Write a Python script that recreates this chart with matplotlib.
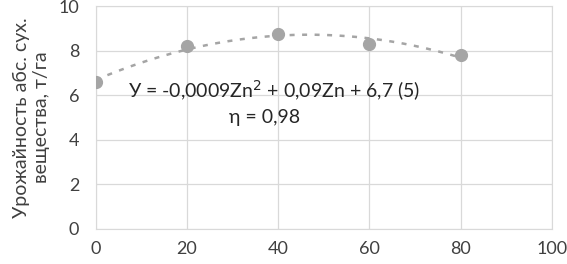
import numpy as np
import matplotlib.pyplot as plt

plt.rcParams['font.family'] = ['Lato', 'DejaVu Sans']

# data
zn = [0, 20, 40, 60, 80]
yld = [6.6, 8.2, 8.75, 8.3, 7.8]
xticks = [0, 20, 40, 60, 80, 100]
yticks = [0, 2, 4, 6, 8, 10]

fig = plt.figure(figsize=(5.67, 2.64), dpi=100)
ax = fig.add_axes([0.169, 0.133, 0.804, 0.844])

# quadratic trend line
coef = np.polyfit(zn, yld, 2)
xs = np.linspace(0, 80, 200)
ax.plot(xs, np.polyval(coef, xs), color='#a5a5a5', lw=1.8, ls=(0, (2, 3)), zorder=2)
ax.plot(zn, yld, 'o', color='#a5a5a5', ms=8.5, zorder=3)

ax.set_xlim(0, 100)
ax.set_ylim(0, 10)
ax.set_xticks(xticks)
ax.set_yticks(yticks)
ax.grid(color='#d9d9d9', lw=0.9)
ax.set_axisbelow(True)
for s in ax.spines.values():
    s.set_color('#d9d9d9')
ax.tick_params(length=0, labelsize=13, colors='#404040')
ax.tick_params(axis='x', pad=9)
ax.tick_params(axis='y', pad=12)

ax.set_ylabel('Урожайность абс. сух.\nвещества, т/га', fontsize=14, color='#404040', labelpad=6)

ax.text(7, 6.2, 'У = -0,0009Zn$^2$ + 0,09Zn + 6,7 (5)', fontsize=14, color='#262626', va='center')
ax.text(37, 5.0, 'η = 0,98', fontsize=14, color='#262626', va='center', ha='center')

fig.savefig('out.png', dpi=100)
